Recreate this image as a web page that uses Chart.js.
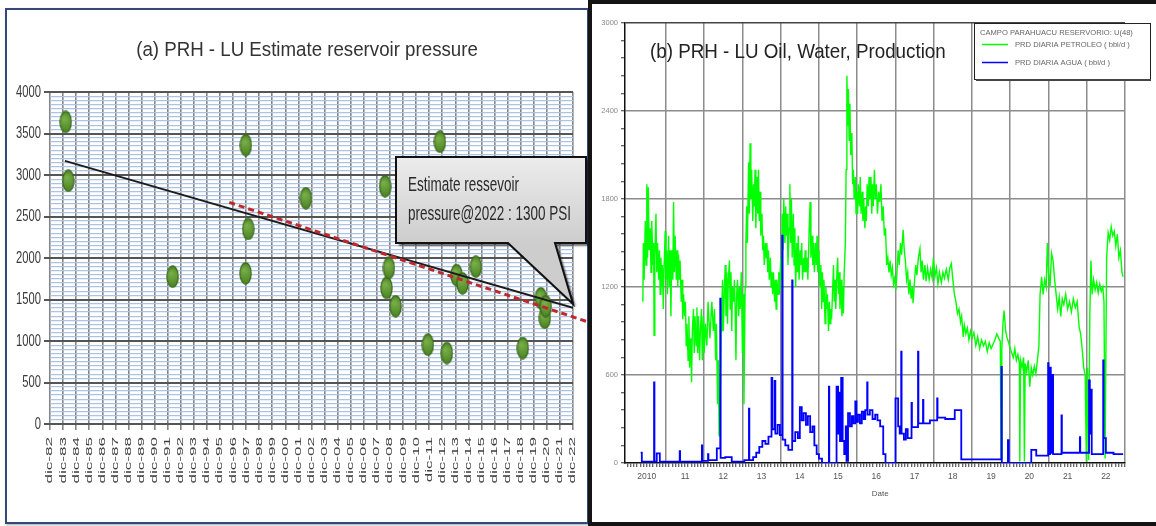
<!DOCTYPE html>
<html>
<head>
<meta charset="utf-8">
<title>PRH - LU pressure and production</title>
<script src="https://cdn.jsdelivr.net/npm/chart.js@4.4.1/dist/chart.umd.min.js"></script>
<style>
  html, body { margin: 0; padding: 0; background: #fff; }
  body { width: 1156px; height: 526px; position: relative; overflow: hidden; }
  #frameA {
    position: absolute; left: 5px; top: 8px; width: 584px; height: 516px;
    box-sizing: border-box; border: 2px solid #34497a; box-shadow: 1px 1px 2px #9aa;
  }
  #frameB {
    position: absolute; left: 588px; top: 0; width: 568px; height: 526px;
    box-sizing: border-box; border: 4px solid #141414; border-right: none; background: #fff;
  }
  #pressure { position: absolute; left: 0; top: 0; }
  #production { position: absolute; left: 592px; top: 4px; }
</style>
</head>
<body>
<div id="frameA"></div>
<canvas id="pressure" width="588" height="526" style="width:588px;height:526px"></canvas>
<div id="frameB"></div>
<canvas id="production" width="560" height="518" style="width:560px;height:518px"></canvas>

<script>
// ---------- (a) reservoir pressure ----------
var decemberTicks = [1982, 1983, 1984, 1985, 1986, 1987, 1988, 1989, 1990, 1991, 1992, 1993, 1994, 1995,
    1996, 1997, 1998, 1999, 2000, 2001, 2002, 2003, 2004, 2005, 2006, 2007, 2008, 2009, 2010, 2011,
    2012, 2013, 2014, 2015, 2016, 2017, 2018, 2019, 2020, 2021, 2022];
var dicLabels = ['dic-82', 'dic-83', 'dic-84', 'dic-85', 'dic-86', 'dic-87', 'dic-88', 'dic-89', 'dic-90',
    'dic-91', 'dic-92', 'dic-93', 'dic-94', 'dic-95', 'dic-96', 'dic-97', 'dic-98', 'dic-99', 'dic-00',
    'dic-01', 'dic-02', 'dic-03', 'dic-04', 'dic-05', 'dic-06', 'dic-07', 'dic-08', 'dic-09', 'dic-10',
    'dic-11', 'dic-12', 'dic-13', 'dic-14', 'dic-15', 'dic-16', 'dic-17', 'dic-18', 'dic-19', 'dic-20',
    'dic-21', 'dic-22'];
var pressureTicks = [0, 500, 1000, 1500, 2000, 2500, 3000, 3500, 4000];

// measured pressures (date as decimal year, psi)
var pressureDates = [1984.16, 1984.36, 1992.34, 1997.92, 1997.94, 1998.12, 2002.53, 2008.59, 2008.70,
    2008.88, 2009.39, 2011.86, 2012.78, 2013.31, 2014.05, 2014.51, 2015.53, 2019.12, 2020.50, 2020.80, 2020.88];
var pressurePsi = [3640, 2930, 1775, 1815, 3360, 2350, 2720, 2865, 1640,
    1880, 1420, 955, 3400, 855, 1795, 1695, 1895, 915, 1515, 1280, 1420];

// linear trend (solid) and recent decline (dashed)
var trendDates = [1984.10, 2022.96];
var trendPsi = [3170, 1400];
var declineDates = [1996.67, 2024.24];
var declinePsi = [2670, 1223];

var calloutLines = ['Estimate ressevoir', 'pressure@2022 : 1300 PSI'];

// ---------- (b) oil / water production ----------
var oilYears = [2010.397, 2010.41, 2010.43, 2010.46, 2010.48, 2010.50, 2010.52, 2010.54, 2010.56, 2010.59,
    2010.61, 2010.63, 2010.66, 2010.68, 2010.69, 2010.71, 2010.74, 2010.76, 2010.78, 2010.81,
    2010.83, 2010.85, 2010.87, 2010.89, 2010.91, 2010.93, 2010.95, 2010.98, 2011.00, 2011.02,
    2011.04, 2011.07, 2011.09, 2011.11, 2011.13, 2011.15, 2011.18, 2011.20, 2011.22, 2011.24,
    2011.27, 2011.29, 2011.31, 2011.33, 2011.35, 2011.37, 2011.40, 2011.42, 2011.44, 2011.46,
    2011.49, 2011.51, 2011.53, 2011.55, 2011.58, 2011.60, 2011.62, 2011.65, 2011.67, 2011.69,
    2011.72, 2011.74, 2011.76, 2011.79, 2011.81, 2011.83, 2011.85, 2011.88, 2011.90, 2011.93,
    2011.95, 2011.98, 2012.00, 2012.03, 2012.07, 2012.10, 2012.15, 2012.20, 2012.24, 2012.27,
    2012.30, 2012.32, 2012.35, 2012.37, 2012.39, 2012.42, 2012.44, 2012.46, 2012.48, 2012.50,
    2012.53, 2012.55, 2012.57, 2012.59, 2012.61, 2012.63, 2012.66, 2012.68, 2012.70, 2012.72,
    2012.74, 2012.77, 2012.79, 2012.81, 2012.83, 2012.85, 2012.87, 2012.90, 2012.92, 2012.94,
    2012.97, 2013.00, 2013.02, 2013.04, 2013.07, 2013.09, 2013.11, 2013.13, 2013.16, 2013.18,
    2013.20, 2013.22, 2013.24, 2013.27, 2013.29, 2013.31, 2013.33, 2013.35, 2013.38, 2013.40,
    2013.42, 2013.44, 2013.46, 2013.48, 2013.51, 2013.53, 2013.55, 2013.57, 2013.60, 2013.62,
    2013.64, 2013.66, 2013.68, 2013.70, 2013.73, 2013.75, 2013.77, 2013.79, 2013.81, 2013.84,
    2013.86, 2013.88, 2013.90, 2013.93, 2013.95, 2013.97, 2014.00, 2014.02, 2014.04, 2014.06,
    2014.08, 2014.11, 2014.13, 2014.15, 2014.17, 2014.19, 2014.22, 2014.24, 2014.26, 2014.28,
    2014.30, 2014.33, 2014.35, 2014.37, 2014.39, 2014.42, 2014.44, 2014.46, 2014.48, 2014.51,
    2014.53, 2014.55, 2014.57, 2014.60, 2014.62, 2014.64, 2014.66, 2014.69, 2014.71, 2014.73,
    2014.75, 2014.77, 2014.79, 2014.82, 2014.84, 2014.86, 2014.88, 2014.91, 2014.93, 2014.95,
    2014.97, 2015.00, 2015.02, 2015.05, 2015.07, 2015.09, 2015.11, 2015.13, 2015.16, 2015.18,
    2015.20, 2015.22, 2015.25, 2015.27, 2015.29, 2015.31, 2015.33, 2015.36, 2015.38, 2015.40,
    2015.42, 2015.44, 2015.47, 2015.49, 2015.51, 2015.53, 2015.55, 2015.58, 2015.60, 2015.62,
    2015.64, 2015.66, 2015.69, 2015.71, 2015.73, 2015.75, 2015.77, 2015.79, 2015.81, 2015.83,
    2015.86, 2015.88, 2015.90, 2015.92, 2015.95, 2015.97, 2015.99, 2016.01, 2016.03, 2016.06,
    2016.08, 2016.10, 2016.13, 2016.15, 2016.17, 2016.20, 2016.22, 2016.24, 2016.26, 2016.29,
    2016.31, 2016.33, 2016.36, 2016.38, 2016.40, 2016.42, 2016.45, 2016.47, 2016.50, 2016.53,
    2016.56, 2016.59, 2016.62, 2016.65, 2016.68, 2016.71, 2016.74, 2016.77, 2016.80, 2016.83,
    2016.86, 2016.89, 2016.92, 2016.95, 2016.98, 2017.01, 2017.04, 2017.07, 2017.10, 2017.13,
    2017.16, 2017.20, 2017.23, 2017.26, 2017.29, 2017.32, 2017.35, 2017.38, 2017.41, 2017.44,
    2017.46, 2017.50, 2017.53, 2017.56, 2017.60, 2017.64, 2017.67, 2017.70, 2017.73, 2017.77,
    2017.80, 2017.84, 2017.88, 2017.92, 2017.96, 2017.99, 2018.03, 2018.07, 2018.11, 2018.15,
    2018.20, 2018.24, 2018.28, 2018.33, 2018.38, 2018.42, 2018.46, 2018.50, 2018.54, 2018.58,
    2018.62, 2018.66, 2018.70, 2018.73, 2018.77, 2018.80, 2018.84, 2018.88, 2018.92, 2018.96,
    2019.00, 2019.05, 2019.10, 2019.15, 2019.20, 2019.25, 2019.30, 2019.35, 2019.40, 2019.45,
    2019.50, 2019.55, 2019.60, 2019.65, 2019.70, 2019.74, 2019.76, 2019.78, 2019.81, 2019.84,
    2019.88, 2019.92, 2019.96, 2020.00, 2020.04, 2020.08, 2020.12, 2020.16, 2020.20, 2020.24,
    2020.25, 2020.27, 2020.31, 2020.35, 2020.37, 2020.39, 2020.43, 2020.47, 2020.51, 2020.55,
    2020.59, 2020.63, 2020.67, 2020.71, 2020.75, 2020.78, 2020.82, 2020.86, 2020.90, 2020.94,
    2020.97, 2021.00, 2021.04, 2021.08, 2021.12, 2021.16, 2021.20, 2021.24, 2021.28, 2021.32,
    2021.36, 2021.40, 2021.45, 2021.50, 2021.55, 2021.60, 2021.65, 2021.70, 2021.75, 2021.80,
    2021.84, 2021.88, 2021.92, 2021.96, 2021.99, 2022.02, 2022.05, 2022.08, 2022.11, 2022.14,
    2022.18, 2022.22, 2022.26, 2022.30, 2022.34, 2022.38, 2022.42, 2022.45, 2022.48, 2022.52,
    2022.56, 2022.60, 2022.64, 2022.68, 2022.72, 2022.76, 2022.80, 2022.84, 2022.88, 2022.92, 2022.95];
var oilRates = [1100, 1500, 1250, 1650, 1350, 1900, 1400, 1880, 1450, 1600,
    1300, 1650, 1350, 1500, 870, 1400, 1700, 1300, 1500, 1250,
    1450, 1150, 1400, 1200, 1350, 1050, 1300, 1580, 1250, 1450,
    1150, 1550, 1200, 1450, 1000, 1450, 1250, 1780, 1300, 1550,
    1250, 1450, 1200, 1420, 1250, 1380, 1100, 1250, 980, 1150,
    1000, 1100, 800, 950, 700, 1000, 650, 850, 550, 900,
    1050, 750, 1000, 800, 1060, 750, 1000, 700, 900, 1050,
    700, 1000, 750, 950, 800, 1100, 850, 1100, 900, 1050,
    700, 950, 400, 700, 180, 450, 900, 1050, 1250, 900,
    1200, 1350, 1000, 1300, 950, 1250, 1380, 1050, 1300, 900,
    1200, 1100, 1250, 1050, 700, 1150, 1250, 1000, 1200, 1050,
    1300, 750, 1150, 400, 1200, 1500, 1750, 1500, 2050, 1700,
    2180, 1800, 2000, 1650, 1900, 1750, 2000, 1600, 1950, 1700,
    2000, 1650, 1850, 1550, 1700, 1450, 1550, 1350, 1500, 1400,
    1500, 1300, 1450, 1250, 1400, 1200, 1300, 1150, 1300, 1100,
    1250, 1050, 1250, 1150, 1300, 1150, 1400, 1250, 1700, 1450,
    1800, 1500, 1750, 1550, 1700, 1350, 1600, 1900, 1500, 1800,
    1400, 1700, 1350, 1600, 1200, 1500, 1300, 1550, 1250, 1450,
    1350, 1500, 1250, 1400, 1300, 1450, 1300, 1400, 1250, 1450,
    1650, 1780, 1400, 1550, 1350, 1500, 1300, 1500, 1350, 1550,
    1300, 1450, 1200, 1350, 1050, 1300, 1100, 1250, 950, 1200,
    1050, 1150, 900, 1100, 950, 1050, 980, 1200, 1350, 1100,
    1250, 1050, 1300, 1400, 1150, 1300, 1050, 1250, 1000, 1200,
    1020, 1300, 1500, 2000, 2640, 2300, 2550, 2200, 2450, 2100,
    2250, 1900, 2000, 1800, 1950, 1700, 1850, 1700, 1900, 1750,
    1950, 1700, 1850, 1650, 1800, 1600, 1750, 1650, 1900, 1750,
    1950, 1800, 1950, 1700, 1900, 1750, 2000, 1800, 1900, 1700,
    1850, 1780, 1900, 1650, 1750, 1550, 1600, 1350, 1400, 1300,
    1380, 1280, 1330, 1220, 1260, 1180, 1300, 1450, 1350, 1500,
    1420, 1590, 1450, 1380, 1250, 1300, 1150, 1250, 1120, 1200,
    1090, 1250, 1350, 1280, 1400, 1460, 1300, 1380, 1250, 1350,
    1240, 1330, 1250, 1320, 1260, 1400, 1270, 1330, 1220, 1300,
    1230, 1300, 1260, 1320, 1250, 1330, 1360, 1250, 1150, 1100,
    1020, 1050, 960, 1000, 860, 940, 880, 920, 840, 900,
    850, 890, 800, 860, 780, 840, 800, 830, 760, 820,
    780, 810, 840, 880, 850, 830, 30, 780, 950, 1040,
    900, 850, 820, 780, 750, 720, 780, 700, 740, 680,
    10, 700, 650, 720, 10, 680, 620, 700, 520, 650,
    600, 660, 610, 700, 800, 1150, 1270, 1150, 1250, 1200,
    1500, 1300, 1200, 1430, 1380, 1250, 1150, 1050, 1130, 1000,
    1120, 1080, 1150, 1050, 1100, 1030, 1120, 1060, 1100, 930,
    880, 780, 650, 600, 10, 650, 20, 1000, 1380, 1150,
    1250, 1180, 1230, 1160, 1220, 1170, 1200, 1100, 30, 1400,
    1570, 1520, 1610, 1550, 1580, 1480, 1560, 1400, 1450, 1300, 1270];

// water: each value holds until the next date
var waterYears = [2010.34, 2010.37, 2010.69, 2010.70, 2010.76, 2010.84, 2011.36, 2011.37, 2011.94, 2011.95,
    2012.10, 2012.11, 2012.33, 2012.42, 2012.43, 2012.55, 2012.72, 2013.05, 2013.17, 2013.18,
    2013.28, 2013.36, 2013.44, 2013.52, 2013.60, 2013.68, 2013.76, 2013.78, 2013.84, 2013.86,
    2013.92, 2013.98, 2014.04, 2014.05, 2014.12, 2014.20, 2014.30, 2014.31, 2014.38, 2014.45,
    2014.50, 2014.55, 2014.60, 2014.66, 2014.71, 2014.77, 2014.83, 2014.88, 2014.94, 2015.00,
    2015.08, 2015.26, 2015.27, 2015.46, 2015.50, 2015.52, 2015.55, 2015.58, 2015.62, 2015.66,
    2015.70, 2015.72, 2015.76, 2015.81, 2015.86, 2015.90, 2015.95, 2015.98, 2016.02, 2016.07,
    2016.12, 2016.17, 2016.21, 2016.26, 2016.27, 2016.33, 2016.40, 2016.47, 2016.53, 2016.60,
    2016.68, 2016.74, 2017.00, 2017.07, 2017.11, 2017.15, 2017.16, 2017.22, 2017.27, 2017.32,
    2017.42, 2017.43, 2017.59, 2017.60, 2017.72, 2017.73, 2017.90, 2018.09, 2018.10, 2018.30,
    2018.45, 2018.55, 2018.72, 2019.77, 2019.78, 2019.94, 2019.96, 2020.55, 2020.68, 2020.99,
    2021.00, 2021.04, 2021.06, 2021.10, 2021.12, 2021.34, 2021.35, 2021.82, 2021.83, 2022.06,
    2022.08, 2022.11, 2022.13, 2022.43, 2022.44, 2022.50, 2022.70, 2022.95];
var waterRates = [70, 10, 550, 10, 65, 10, 80, 10, 120, 15,
    60, 20, 100, 1120, 35, 40, 10, 20, 370, 20,
    40, 70, 110, 150, 130, 180, 580, 230, 560, 200,
    260, 190, 1550, 160, 120, 90, 1245, 150, 210, 170,
    380, 290, 340, 260, 320, 210, 250, 120, 60, 30,
    0, 520, 0, 520, 200, 480, 150, 580, 150, 60,
    250, 15, 340, 250, 320, 270, 420, 280, 330, 270,
    350, 300, 360, 550, 330, 360, 300, 330, 290, 250,
    60, 0, 440, 250, 200, 760, 200, 160, 230, 170,
    410, 245, 760, 270, 430, 270, 290, 440, 310, 300,
    300, 360, 25, 655, 0, 155, 0, 90, 50, 680,
    60, 650, 70, 600, 60, 325, 70, 177, 70, 564,
    200, 500, 60, 700, 170, 70, 60, 60];

var rateTicks = [0, 600, 1200, 1800, 2400, 3000];
var yearLabels = ['2010', '11', '12', '13', '14', '15', '16', '17', '18', '19', '20', '21', '22'];
var seriesNames = ['PRD DIARIA PETROLEO ( bbl/d )', 'PRD DIARIA AGUA ( bbl/d )'];
var legendTitle = 'CAMPO PARAHUACU RESERVORIO: U(48)';

function pairs(xs, ys) {
    return xs.map(function(x, i) { return { x: x, y: ys[i] }; });
}

// draw text with a stretch, the source picture is squeezed sideways
function stretchedText(ctx, text, x, y, sx, sy) {
    ctx.save();
    ctx.translate(x, y);
    ctx.scale(sx, sy);
    ctx.fillText(text, 0, 0);
    ctx.restore();
}

function makeMarker() {
    var c = document.createElement('canvas');
    c.width = 13;
    c.height = 23;
    var g = c.getContext('2d');
    var grad = g.createRadialGradient(5, 8, 1, 6.5, 11.5, 10);
    grad.addColorStop(0, '#78ad48');
    grad.addColorStop(1, '#4a8423');
    g.fillStyle = grad;
    g.strokeStyle = '#386818';
    g.lineWidth = 1.2;
    g.beginPath();
    g.ellipse(6.5, 11.5, 5.6, 10.6, 0, 0, Math.PI * 2);
    g.fill();
    g.stroke();
    return c;
}

var NARROW = '"Liberation Sans Narrow", "Liberation Sans", Arial, sans-serif';
var SANS = '"Liberation Sans", Arial, sans-serif';

var pressureDecor = {
    id: 'pressureDecor',
    afterDraw: function(chart) {
        var ctx = chart.ctx, xs = chart.scales.x, ys = chart.scales.y;
        ctx.save();

        // title
        ctx.fillStyle = '#333';
        ctx.font = '18.7px ' + SANS;
        ctx.textAlign = 'center';
        ctx.textBaseline = 'alphabetic';
        stretchedText(ctx, '(a) PRH - LU Estimate reservoir pressure', 307, 56, 1, 1.05);

        // y labels
        ctx.fillStyle = '#3a3a3a';
        ctx.font = '14px ' + NARROW;
        ctx.textAlign = 'right';
        ctx.textBaseline = 'middle';
        pressureTicks.forEach(function(v) {
            stretchedText(ctx, String(v), xs.left - 9, ys.getPixelForValue(v), 0.8, 1.2);
        });

        // x labels, vertical
        ctx.fillStyle = '#404040';
        ctx.font = '9px ' + SANS;
        decemberTicks.forEach(function(yr, i) {
            ctx.save();
            ctx.translate(xs.getPixelForValue(yr + 0.96), ys.bottom + 13);
            ctx.rotate(-Math.PI / 2);
            ctx.scale(1.9, 1);
            ctx.textAlign = 'right';
            ctx.fillText(dicLabels[i], 0, 0);
            ctx.restore();
        });

        // callout
        var tipX = xs.getPixelForValue(2022.96), tipY = ys.getPixelForValue(1446);
        var L = 396, T = 157, R = 586, B = 243;
        ctx.beginPath();
        ctx.moveTo(L, T);
        ctx.lineTo(R, T);
        ctx.lineTo(R, B);
        ctx.lineTo(555, B);
        ctx.lineTo(tipX, tipY);
        ctx.lineTo(508, B);
        ctx.lineTo(L, B);
        ctx.closePath();
        var grad = ctx.createLinearGradient(0, T, 0, B);
        grad.addColorStop(0, '#ececec');
        grad.addColorStop(1, '#cdcdcd');
        ctx.save();
        ctx.shadowColor = 'rgba(0,0,0,0.55)';
        ctx.shadowOffsetX = 3;
        ctx.shadowOffsetY = 3;
        ctx.shadowBlur = 2;
        ctx.fillStyle = grad;
        ctx.fill();
        ctx.restore();
        ctx.lineWidth = 2;
        ctx.strokeStyle = '#111';
        ctx.lineJoin = 'miter';
        ctx.stroke();

        ctx.fillStyle = '#2a2a2a';
        ctx.font = '15px ' + NARROW;
        ctx.textAlign = 'left';
        ctx.textBaseline = 'alphabetic';
        stretchedText(ctx, calloutLines[0], 408, 191, 0.9, 1.3);
        stretchedText(ctx, calloutLines[1], 408, 220, 0.9, 1.3);
        ctx.restore();
    }
};

new Chart(document.getElementById('pressure'), {
    type: 'scatter',
    data: {
        datasets: [
            {
                label: 'Pressure',
                data: pairs(pressureDates, pressurePsi),
                pointStyle: makeMarker(),
                pointRadius: 6,
                order: 3
            },
            {
                label: 'Trend',
                data: pairs(trendDates, trendPsi),
                showLine: true,
                borderColor: '#1c1c1c',
                borderWidth: 2,
                pointRadius: 0,
                order: 2
            },
            {
                label: 'Decline',
                data: pairs(declineDates, declinePsi),
                showLine: true,
                borderColor: '#c0282d',
                borderWidth: 3,
                borderDash: [6, 4],
                pointRadius: 0,
                clip: false,
                order: 1
            }
        ]
    },
    options: {
        responsive: false,
        animation: false,
        events: [],
        layout: { padding: { left: 42, right: 15, top: 92, bottom: 96 } },
        plugins: { legend: { display: false }, tooltip: { enabled: false } },
        scales: {
            x: {
                type: 'linear',
                min: 1982.96,
                max: 2022.96,
                afterBuildTicks: function(s) {
                    s.ticks = decemberTicks.map(function(y) { return { value: y + 0.96 }; });
                },
                afterFit: function(s) { s.height = 6; },
                grid: { color: '#858585', lineWidth: 1.6, tickLength: 6, tickColor: '#858585' },
                border: { display: false },
                ticks: { display: false }
            },
            y: {
                min: 0,
                max: 4000,
                afterBuildTicks: function(s) {
                    var t = [];
                    for (var v = 0; v <= 4000; v += 50) t.push({ value: v });
                    s.ticks = t;
                },
                afterFit: function(s) { s.width = 8; },
                grid: {
                    color: function(c) { return c.tick.value % 500 === 0 ? '#555' : '#adc3e3'; },
                    lineWidth: function(c) { return c.tick.value % 500 === 0 ? 2 : 1.2; },
                    tickColor: function(c) { return c.tick.value % 500 === 0 ? '#555' : 'rgba(0,0,0,0)'; },
                    tickLength: 6
                },
                border: { display: false },
                ticks: { display: false }
            }
        }
    },
    plugins: [pressureDecor]
});

// ---------- (b) chart ----------
var productionDecor = {
    id: 'productionDecor',
    afterDraw: function(chart) {
        var ctx = chart.ctx, xs = chart.scales.x;
        ctx.save();

        ctx.fillStyle = '#222';
        ctx.font = '18.8px ' + SANS;
        ctx.textAlign = 'left';
        ctx.textBaseline = 'alphabetic';
        stretchedText(ctx, '(b) PRH - LU Oil, Water, Production', 58, 54, 1, 1.1);

        ctx.fillStyle = '#555';
        ctx.font = '8px ' + SANS;
        ctx.textAlign = 'center';
        ctx.textBaseline = 'middle';
        ctx.fillText('Date', xs.getPixelForValue(2016.6), 490);

        // legend box
        var L = 382, T = 19, R = 559, B = 76;
        ctx.fillStyle = '#fff';
        ctx.fillRect(L, T, R - L, B - T);
        ctx.strokeStyle = '#222';
        ctx.lineWidth = 1;
        ctx.strokeRect(L + 0.5, T + 0.5, R - L - 1, B - T - 1);
        ctx.fillStyle = '#444';
        ctx.fillRect(L + 2, B - 1, R - L - 2, 2);

        ctx.fillStyle = '#666';
        ctx.font = '7.6px ' + SANS;
        ctx.textAlign = 'left';
        ctx.fillText(legendTitle, L + 6, 29);
        var colors = ['#00ff00', '#0000ff'];
        [40.5, 58.5].forEach(function(yy, i) {
            ctx.strokeStyle = colors[i];
            ctx.lineWidth = 1.5;
            ctx.beginPath();
            ctx.moveTo(L + 8, yy);
            ctx.lineTo(L + 34, yy);
            ctx.stroke();
            ctx.fillStyle = '#666';
            ctx.fillText(seriesNames[i], L + 41, yy);
        });
        ctx.restore();
    }
};

new Chart(document.getElementById('production'), {
    type: 'scatter',
    data: {
        datasets: [
            {
                label: seriesNames[0],
                data: pairs(oilYears, oilRates),
                showLine: true,
                borderColor: '#00ff00',
                borderWidth: 1.4,
                pointRadius: 0,
                order: 2
            },
            {
                label: seriesNames[1],
                data: pairs(waterYears, waterRates),
                showLine: true,
                stepped: 'before',
                borderColor: '#0000ff',
                borderWidth: 1.8,
                pointRadius: 0,
                order: 1
            }
        ]
    },
    options: {
        responsive: false,
        animation: false,
        events: [],
        layout: { padding: { left: 0, right: 27, top: 19, bottom: 19 } },
        plugins: { legend: { display: false }, tooltip: { enabled: false } },
        scales: {
            x: {
                type: 'linear',
                min: 2009.93,
                max: 2023,
                afterBuildTicks: function(s) {
                    var t = [];
                    for (var m = 0; m <= 156; m++) t.push({ value: 2010 + m / 12 });
                    s.ticks = t;
                },
                afterFit: function(s) { s.height = 40; },
                grid: {
                    color: function(c) {
                        var m = Math.round((c.tick.value - 2010) * 12);
                        return (m % 12 === 0 && m > 0) ? '#8c8c8c' : 'rgba(0,0,0,0)';
                    },
                    lineWidth: 1.5,
                    tickColor: '#333',
                    tickLength: 4,
                    tickWidth: 1
                },
                border: { color: '#111', width: 1.5 },
                ticks: {
                    autoSkip: false,
                    maxRotation: 0,
                    minRotation: 0,
                    padding: 5,
                    color: '#555',
                    font: { family: SANS, size: 8.5 },
                    callback: function(v, i) { return i % 12 === 6 ? yearLabels[(i - 6) / 12] : ''; }
                }
            },
            y: {
                min: 0,
                max: 3000,
                afterBuildTicks: function(s) {
                    var t = [];
                    for (var v = 0; v <= 3000; v += 120) t.push({ value: v });
                    s.ticks = t;
                },
                afterFit: function(s) { s.width = 33; },
                grid: {
                    color: function(c) {
                        var v = c.tick.value;
                        if (v === 3000) return '#444';
                        return (v % 600 === 0 && v > 0) ? '#8c8c8c' : 'rgba(0,0,0,0)';
                    },
                    lineWidth: 1.5,
                    tickColor: '#333',
                    tickLength: 4,
                    tickWidth: 1
                },
                border: { color: '#111', width: 1.5 },
                ticks: {
                    autoSkip: false,
                    padding: 3,
                    color: '#888',
                    font: { family: SANS, size: 7.5 },
                    callback: function(v) {
                        var k = rateTicks.indexOf(v);
                        return k >= 0 ? String(rateTicks[k]) : '';
                    }
                }
            }
        }
    },
    plugins: [productionDecor]
});
</script>
</body>
</html>
